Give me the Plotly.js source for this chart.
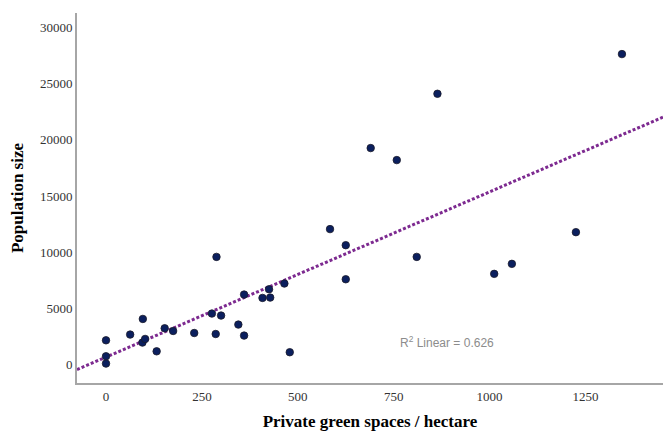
<!DOCTYPE html>
<html>
<head>
<meta charset="utf-8">
<script src="https://cdn.plot.ly/plotly-3.0.1.min.js"></script>
<style>html,body{margin:0;padding:0;background:#fff;}#chart{width:663px;height:433px;}</style>
</head>
<body>
<div id="chart"></div>
<script>
// Private green spaces (hectare) vs population size
const greenSpace = [0, 0, 0, 63, 96, 95, 102, 132, 153, 175, 230, 288, 360, 425, 465, 408, 428, 276, 300, 345, 286, 360, 479, 584, 625, 625, 810, 1012, 1058, 1345, 1225, 864, 690, 758];
const population = [2160, 740, 90, 2670, 4060, 1960, 2280, 1180, 3230, 2990, 2810, 9580, 6230, 6700, 7210, 5930, 5960, 4540, 4360, 3560, 2720, 2580, 1100, 12050, 10620, 7590, 9580, 8070, 8960, 27620, 11780, 24090, 19260, 18190];

// Linear fit line
const fitIntercept = 666;
const fitSlope = 14.7;
const fitX = [-75.6, 1452];
const fitY = fitX.map(v => fitIntercept + fitSlope * v);

const xTicks = [0, 250, 500, 750, 1000, 1250];
const yTicks = [0, 5000, 10000, 15000, 20000, 25000, 30000];
const r2Label = 'R<sup>2</sup> Linear = 0.626';

const tickFont = {family: 'Liberation Serif, Times New Roman, serif', size: 13, color: '#333333'};
const titleFont = {family: 'Liberation Serif, Times New Roman, serif', size: 17, color: '#000000', weight: 'bold'};

const traces = [
  {
    x: fitX, y: fitY, type: 'scatter', mode: 'lines',
    line: {color: '#7d2a90', width: 3, dash: '3px,2px'},
    hoverinfo: 'skip', showlegend: false
  },
  {
    x: greenSpace, y: population, type: 'scatter', mode: 'markers',
    marker: {color: '#0b1f5e', size: 7.5, line: {color: '#1a1a2a', width: 0.8}},
    showlegend: false
  }
];

const layout = {
  width: 663, height: 433,
  margin: {l: 77, r: 0, t: 13, b: 50},
  paper_bgcolor: '#ffffff', plot_bgcolor: '#ffffff',
  showlegend: false,
  xaxis: {
    range: [-75.6, 1452], tickvals: xTicks, ticktext: xTicks.map(String),
    showgrid: false, zeroline: false, showline: true, linecolor: '#a6a6a6', linewidth: 2,
    ticks: '', tickfont: tickFont, automargin: false,
    title: {text: 'Private green spaces / hectare', font: titleFont, standoff: 13}
  },
  yaxis: {
    range: [-1638, 31275], tickvals: yTicks, ticktext: yTicks.map(String),
    showgrid: false, zeroline: false, showline: true, linecolor: '#a6a6a6', linewidth: 2,
    ticks: '', tickfont: tickFont, automargin: false,
    title: {text: 'Population size', font: titleFont, standoff: 12}
  },
  annotations: [
    {x: 888, y: 2010, xref: 'x', yref: 'y', text: r2Label, showarrow: false,
     font: {family: 'Liberation Sans, Arial, sans-serif', size: 12, color: '#8c8c8c'}}
  ]
};

Plotly.newPlot('chart', traces, layout, {displayModeBar: false, staticPlot: true});
</script>
</body>
</html>
